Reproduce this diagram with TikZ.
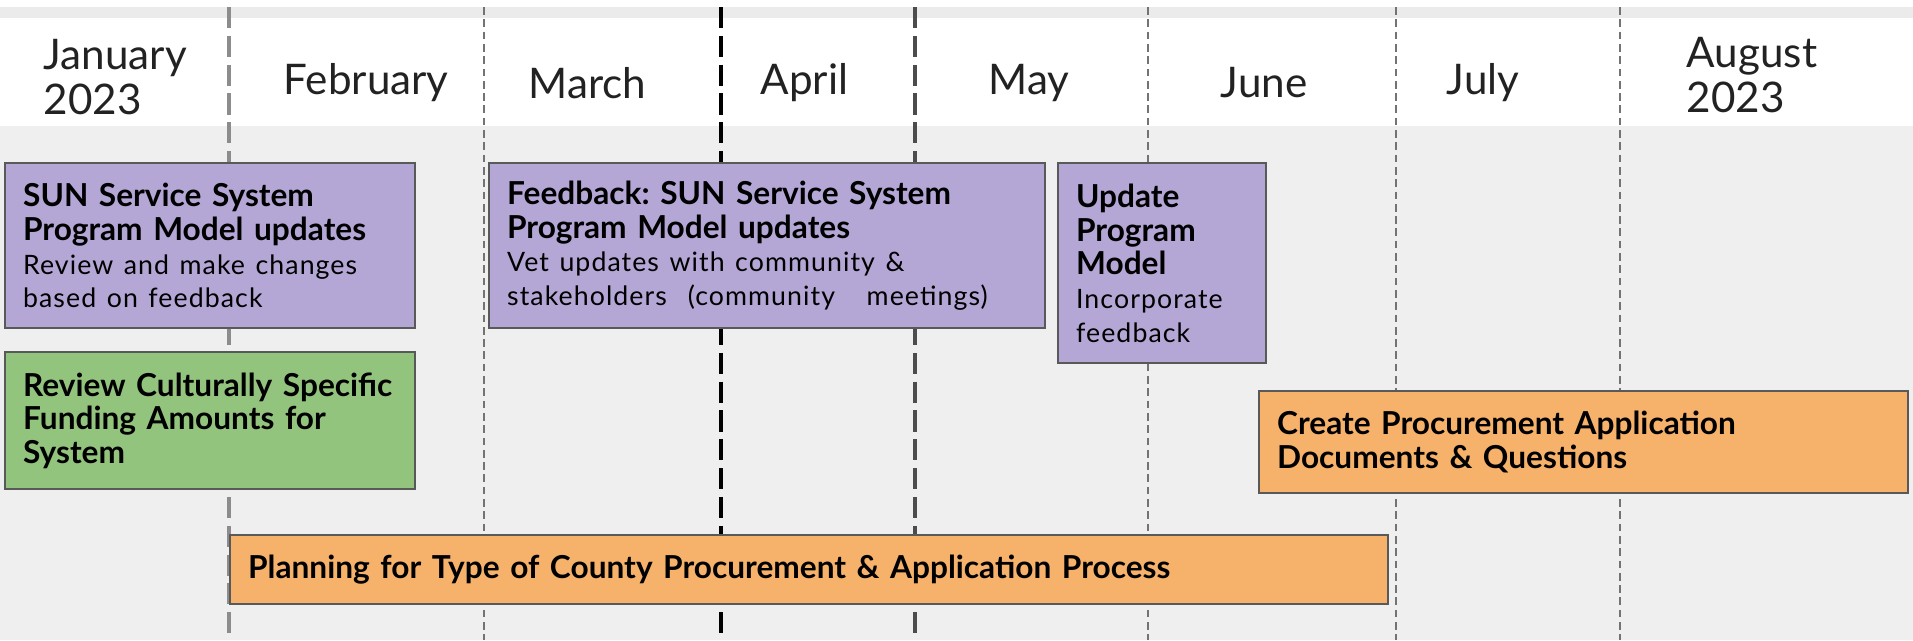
\documentclass[tikz,border=0pt]{standalone}
\usepackage{fontspec}
\setmainfont{Lato}
\usetikzlibrary{positioning,calc}
\definecolor{lavender}{HTML}{B4A7D6}
\definecolor{sage}{HTML}{93C47D}
\definecolor{apricot}{HTML}{F6B26B}
\definecolor{panel}{HTML}{EFEFEF}
\definecolor{ink}{HTML}{222222}
\newcommand{\headfont}{\fontsize{9}{9.6}\selectfont\bfseries}
\newcommand{\notefont}{\fontsize{7.6}{9.6}\selectfont\mdseries\addfontfeatures{LetterSpace=4}}
\frenchspacing
\tikzset{
    month/.style={
        anchor=west,
        align=left,
        text=ink,
        inner sep=0pt,
        font=\fontsize{12}{13}\selectfont
    },
    task/.style={
        rectangle,
        draw=black!65,
        line width=0.65pt,
        anchor=north west,
        align=left,
        inner xsep=1.8mm,
        inner ysep=0pt,
        text=black,
        font=\headfont
    },
    plan/.style={task, fill=lavender},
    review/.style={task, fill=sage},
    procure/.style={task, fill=apricot},
    divider/.style={
        black!55,
        line width=0.45pt,
        dash pattern=on 2.2pt off 1.3pt
    },
    bolddivider/.style={
        line width=1pt,
        dash pattern=on 6pt off 2.2pt
    }
}

\begin{document}
\begin{tikzpicture}[x=0.1mm, y=-0.1mm]
        % Background
        \useasboundingbox (0,0) rectangle (1913,640);
        \fill[white] (0,0) rectangle (1913,640);
        \fill[black!8] (0,7) rectangle (1913,18);
        \fill[panel] (0,126) rectangle (1913,640);

        % Month dividers
        \draw[divider] (484,7) -- (484,640);
        \foreach \x in {1148,1396,1620} \draw[divider] (\x,7) -- (\x,640);
        \draw[bolddivider, black!45] (229,7) -- (229,640);
        \draw[bolddivider, black] (721,7) -- (721,640);
        \draw[bolddivider, black!70] (915,7) -- (915,640);

        % Months
        \node (jan) [month] at (43,77) {January\\2023};
        \node (feb) [month] at (283,83) {February};
        \node (mar) [month] at (528,83) {March};
        \node (apr) [month] at (760,83) {April};
        \node (may) [month] at (988,83) {May};
        \node (jun) [month] at (1220,83) {June};
        \node (jul) [month] at (1446,83) {July};
        \node (aug) [month] at (1686,75) {August\\2023};

        % Tasks
        \node (sunupdate) [plan, text width=37.4mm, minimum height=16.5mm] at (4,162)
            {SUN Service System\\Program Model updates\\ \notefont Review and make changes\\based on feedback};
        \node (funding) [review, text width=37.4mm, minimum height=13.7mm] at (4,351)
            {Review Culturally Specific\\Funding Amounts for\\System};
        \node (feedback) [plan, text width=52mm, minimum height=16.5mm] at (488,162)
            {Feedback: SUN Service System\\Program Model updates\\ \notefont Vet updates with community \&\\stakeholders~~(community~~~meetings)};
        \node (modelupdate) [plan, text width=17.2mm, minimum height=20mm] at (1057,162)
            {Update\\Program\\Model\\ \notefont Incorporate\\feedback};
        \node (documents) [procure, text width=61.3mm, minimum height=10.2mm] at (1258,390)
            {Create Procurement Application\\Documents \& Questions};
        \node (planning) [procure, text width=112.2mm, minimum height=6.9mm] at (229,534)
            {Planning for Type of County Procurement \& Application Process};
    \end{tikzpicture}
\end{document}
